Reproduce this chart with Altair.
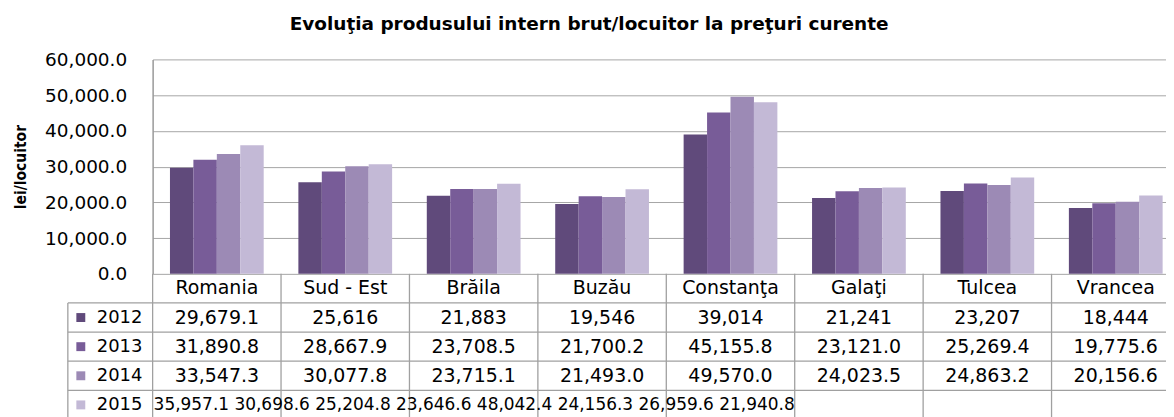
import altair as alt
import pandas as pd

title_text = "Evoluţia produsului intern brut/locuitor la preţuri curente"
y_title = "lei/locuitor"
categories = ["Romania", "Sud - Est", "Brăila", "Buzău", "Constanţa", "Galaţi", "Tulcea", "Vrancea"]
years = ["2012", "2013", "2014", "2015"]
v2012 = [29679.1, 25616, 21883, 19546, 39014, 21241, 23207, 18444]
v2013 = [31890.8, 28667.9, 23708.5, 21700.2, 45155.8, 23121.0, 25269.4, 19775.6]
v2014 = [33547.3, 30077.8, 23715.1, 21493.0, 49570.0, 24023.5, 24863.2, 20156.6]
v2015 = [35957.1, 30698.6, 25204.8, 23646.6, 48042.4, 24156.3, 26959.6, 21940.8]
y_ticks = [0, 10000, 20000, 30000, 40000, 50000, 60000]
colors = ["#604a7b", "#785c98", "#9c8ab5", "#c3b9d6"]

series = {"2012": v2012, "2013": v2013, "2014": v2014, "2015": v2015}


def fmt(v, year):
    if year == "2012" and float(v).is_integer():
        return f"{int(v):,}"
    return f"{v:,.1f}"


recs = []
for yr, vals in series.items():
    for c, v in zip(categories, vals):
        recs.append({"cat": c, "year": yr, "value": v})
df = pd.DataFrame(recs)

W = 1030
H = 215
TH = 146
NROWS = 5
FONT = "DejaVu Sans"
GRID = "#a6a6a6"
LINE = "#a0a0a0"
FS = 19

color_scale = alt.Scale(domain=years, range=colors)

bars = alt.Chart(df).mark_bar().encode(
    x=alt.X("cat:N", scale=alt.Scale(domain=categories, paddingInner=0.27, paddingOuter=0.135), axis=None),
    xOffset=alt.XOffset("year:N", scale=alt.Scale(domain=years, paddingInner=0, paddingOuter=0)),
    y=alt.Y(
        "value:Q",
        scale=alt.Scale(domain=[0, 60000], nice=False),
        axis=alt.Axis(
            values=y_ticks, format=",.1f", title=y_title,
            labelFont=FONT, labelFontSize=18.5, labelColor="#000", labelPadding=26,
            ticks=False, domainColor="#999999", domainWidth=1.5,
            gridColor=GRID, gridWidth=1,
            titleFont="DejaVu Sans Condensed", titleFontWeight="bold", titleFontSize=15.5,
            titleColor="#000", titlePadding=16,
        ),
    ),
    color=alt.Color("year:N", scale=color_scale, legend=None),
).properties(width=W, height=H)

# ---- table ----
xs = alt.Scale(domain=categories, paddingInner=0, paddingOuter=0)
ys = alt.Scale(domain=[0, NROWS], reverse=True, nice=False, zero=False)

vr = pd.DataFrame({"cat": categories, "y0": [0] * len(categories), "y1": [NROWS] * len(categories)})
vrules = alt.Chart(vr).mark_rule(color=LINE, strokeWidth=1.3).encode(
    x=alt.X("cat:N", bandPosition=0, scale=xs, axis=None),
    y=alt.Y("y0:Q", scale=ys, axis=None),
    y2="y1:Q",
)

hr = pd.DataFrame({"yy": [1, 2, 3, 4]})
hrules = alt.Chart(hr).mark_rule(color=LINE, strokeWidth=1.3).encode(
    x=alt.value(-85), x2=alt.value(W),
    y=alt.Y("yy:Q", scale=ys, axis=None),
)

lb = pd.DataFrame({"y0": [1], "y1": [NROWS]})
lrule = alt.Chart(lb).mark_rule(color=LINE, strokeWidth=1.3).encode(
    x=alt.value(-85),
    y=alt.Y("y0:Q", scale=ys, axis=None),
    y2="y1:Q",
)

trecs = [{"cat": c, "ymid": 0.5, "txt": c} for c in categories]
for i, yr in enumerate(years[:3]):
    for c, v in zip(categories, series[yr]):
        trecs.append({"cat": c, "ymid": i + 1.5, "txt": fmt(v, yr)})
tdf = pd.DataFrame(trecs)
cells = alt.Chart(tdf).mark_text(font=FONT, fontSize=FS, color="#000").encode(
    x=alt.X("cat:N", scale=xs, axis=None),
    y=alt.Y("ymid:Q", scale=ys, axis=None),
    text="txt:N",
)

row2015 = pd.DataFrame({"cat": [categories[0]], "ymid": [4.5],
                        "txt": [" ".join(fmt(v, "2015") for v in v2015)]})
overflow = alt.Chart(row2015).mark_text(font=FONT, fontSize=17, color="#000", align="left", dx=1).encode(
    x=alt.X("cat:N", bandPosition=0, scale=xs, axis=None),
    y=alt.Y("ymid:Q", scale=ys, axis=None),
    text="txt:N",
)

hdf = pd.DataFrame({"year": years, "ymid": [1.5, 2.5, 3.5, 4.5]})
keys = alt.Chart(hdf).mark_square(size=80, opacity=1).encode(
    x=alt.value(-72),
    y=alt.Y("ymid:Q", scale=ys, axis=None),
    color=alt.Color("year:N", scale=color_scale, legend=None),
)
keytext = alt.Chart(hdf).mark_text(font=FONT, fontSize=18, color="#000", align="left").encode(
    x=alt.value(-56),
    y=alt.Y("ymid:Q", scale=ys, axis=None),
    text="year:N",
)

table = alt.layer(vrules, hrules, lrule, cells, overflow, keys, keytext).properties(width=W, height=TH)

chart = alt.vconcat(bars, table, spacing=0, bounds="flush").properties(
    title=alt.TitleParams(title_text, font=FONT, fontSize=18.5, fontWeight="bold", color="#000",
                          anchor="middle", offset=17, dx=-8),
    padding={"left": 5, "top": 6, "right": -15, "bottom": 0},
).configure_view(strokeWidth=0)

chart.save("out.html", embed_options={"renderer": "svg", "actions": False})
